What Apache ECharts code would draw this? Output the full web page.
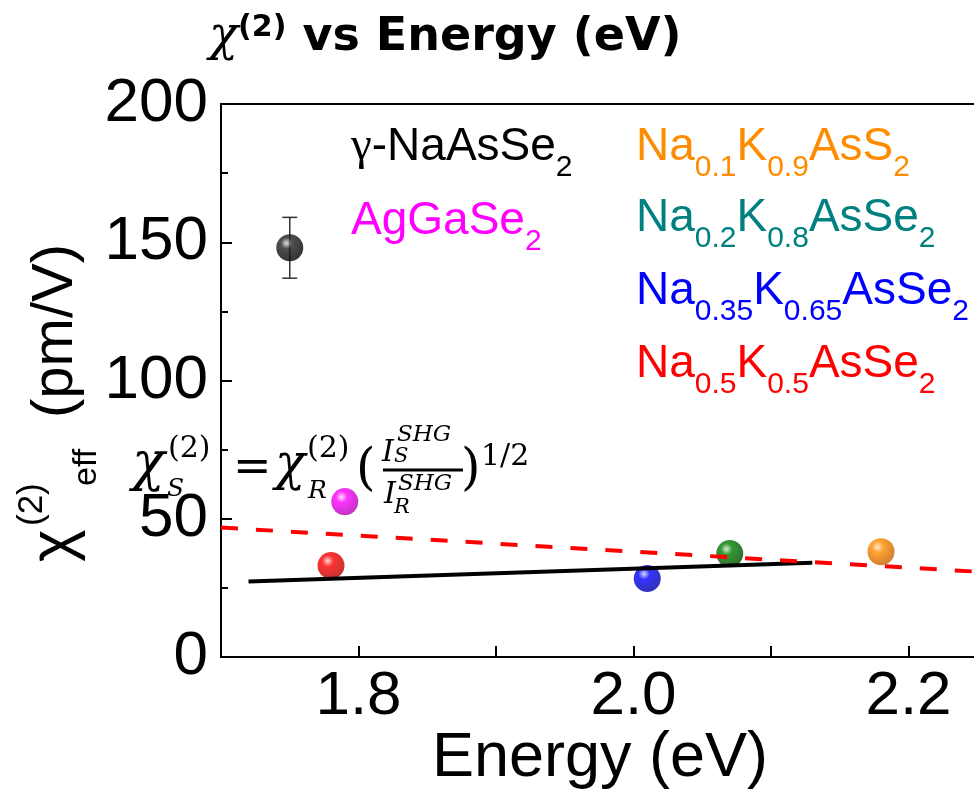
<!DOCTYPE html>
<html><head><meta charset="utf-8">
<script src="https://cdn.jsdelivr.net/npm/echarts@6/dist/echarts.min.js"></script>
<style>html,body{margin:0;padding:0;background:#fff}#c{width:974px;height:793px}</style>
</head><body><div id="c"></div>
<script>
// ---- data ----
const materials = ['γ-NaAsSe2', 'AgGaSe2', 'Na0.1K0.9AsS2', 'Na0.2K0.8AsSe2', 'Na0.35K0.65AsSe2', 'Na0.5K0.5AsSe2'];
const energy = [1.75, 1.79, 2.18, 2.07, 2.01, 1.78];
const chi2 = [148.0, 56.2, 38.1, 37.4, 28.4, 33.1];
const chi2Err = [11, 0, 0, 0, 0, 0];
const fitSolidX = [1.72, 2.13];
const fitSolidY = [27.3, 34.1];
const fitDashX = [1.70, 2.30];
const fitDashY = [46.8, 29.4];
const yTickValues = [0, 50, 100, 150, 200];
const xTickLabels = ['1.8', '2.0', '2.2'];
const xRange = [1.7, 2.3];

// ---- styles ----
const sphereColors = [
  ['#d8d8d8', '#222222', '#000000'],
  ['#ffd8ff', '#ff00ff', '#b000b0'],
  ['#ffe6c0', '#ff8c00', '#c06000'],
  ['#c8e8c8', '#008000', '#004800'],
  ['#d0d0ff', '#0000ff', '#0000a0'],
  ['#ffd0d0', '#ff0000', '#b00000']
];
const labelColors = ['#000000', '#ff00ff', '#ff8c00', '#008080', '#0000ff', '#ff0000'];
const labelTokens = [
  [['g', 'γ'], ['m', '-NaAsSe'], ['s', '2']],
  [['m', 'AgGaSe'], ['s', '2']],
  [['m', 'Na'], ['s', '0.1'], ['m', 'K'], ['s', '0.9'], ['m', 'AsS'], ['s', '2']],
  [['m', 'Na'], ['s', '0.2'], ['m', 'K'], ['s', '0.8'], ['m', 'AsSe'], ['s', '2']],
  [['m', 'Na'], ['s', '0.35'], ['m', 'K'], ['s', '0.65'], ['m', 'AsSe'], ['s', '2']],
  [['m', 'Na'], ['s', '0.5'], ['m', 'K'], ['s', '0.5'], ['m', 'AsSe'], ['s', '2']]
];
const labelPos = [[351, 163], [351, 237], [636, 163], [636, 234], [636, 307], [636, 380]];

const SANS = 'Liberation Sans';
const SERIF = 'DejaVu Serif';

function sphere(c) {
  return {
    type: 'radial', x: 0.38, y: 0.33, r: 0.7,
    colorStops: [
      { offset: 0, color: c[0] },
      { offset: 0.3, color: c[1] },
      { offset: 1, color: c[2] }
    ]
  };
}

const chart = echarts.init(document.getElementById('c'), null, { renderer: 'canvas' });

const graphics = [];

// title
graphics.push({
  type: 'text', left: 209, top: 8, z: 10,
  style: {
    text: '{c|χ}{p|(2)}{t| vs Energy (eV)}',
    verticalAlign: 'top',
    rich: {
      c: { fontFamily: SERIF, fontStyle: 'italic', fontSize: 48, lineHeight: 60, fill: '#000' },
      p: { fontFamily: 'DejaVu Sans', fontWeight: 'bold', fontSize: 30, lineHeight: 30, verticalAlign: 'top', padding: [5, 0, 0, 0], fill: '#000' },
      t: { fontFamily: 'DejaVu Sans', fontWeight: 'bold', fontSize: 46, lineHeight: 60, fill: '#000' }
    }
  }
});

// material labels
labelTokens.forEach((toks, i) => {
  const txt = toks.map(t => '{' + t[0] + '|' + t[1] + '}').join('');
  const col = labelColors[i];
  graphics.push({
    type: 'text', x: labelPos[i][0], y: labelPos[i][1] - 56, z: 10,
    style: {
      text: txt, verticalAlign: 'top', align: 'left',
      rich: {
        g: { fontFamily: 'Liberation Serif', fontSize: 47, lineHeight: 80, fill: col },
        m: { fontFamily: SANS, fontSize: 46, lineHeight: 80, fill: col },
        s: { fontFamily: SANS, fontSize: 30, lineHeight: 30, verticalAlign: 'top', padding: [46, 0, 0, 0], fill: col }
      }
    }
  });
});

// y axis title (rotated)
graphics.push({
  type: 'group', x: 76, y: 562, rotation: Math.PI / 2, z: 10,
  children: [
    { type: 'text', x: 0, y: -21, style: { text: 'χ', fontFamily: SANS, fontSize: 62, fill: '#000', verticalAlign: 'middle' } },
    { type: 'text', x: 36, y: -44, style: { text: '(2)', fontFamily: SANS, fontSize: 35, fill: '#000', verticalAlign: 'middle' } },
    { type: 'text', x: 76, y: 11, style: { text: 'eff', fontFamily: SANS, fontSize: 34, fill: '#000', verticalAlign: 'middle' } },
    { type: 'text', x: 144, y: -20, style: { text: '(pm/V)', fontFamily: SANS, fontSize: 58, fill: '#000', verticalAlign: 'middle' } }
  ]
});

// x axis title
graphics.push({
  type: 'text', x: 600, y: 759, z: 10,
  style: { text: 'Energy (eV)', fontFamily: SANS, fontSize: 63, fill: '#000', align: 'center', verticalAlign: 'middle' }
});

// formula
function ft(text, x, y, size, italic) {
  return { type: 'text', x: x, y: y, z: 12,
    style: { text: text, fontFamily: SERIF, fontStyle: italic ? 'italic' : 'normal', fontSize: size, fill: '#000', align: 'left', verticalAlign: 'middle' } };
}
graphics.push(
  ft('χ', 132, 466, 54, true),
  ft('S', 167, 489, 25, true),
  ft('(2)', 168, 449, 30, false),
  ft('=', 233, 469, 46, false),
  ft('χ', 275, 466, 50, true),
  ft('(2)', 307, 449, 30, false),
  ft('R', 308, 491, 25, true),
  ft('(', 356, 471, 50, false),
  ft('I', 382, 453, 30, true),
  ft('SHG', 397, 435, 23, true),
  ft('S', 394, 457, 21, true),
  { type: 'line', z: 12, shape: { x1: 383, y1: 470, x2: 463, y2: 470 }, style: { stroke: '#000', lineWidth: 3 } },
  ft('I', 384, 495, 30, true),
  ft('SHG', 398, 484, 23, true),
  ft('R', 394, 508, 21, true),
  ft(')', 461, 471, 50, false),
  ft('1/2', 481, 457, 30, false)
);

function xFmt(v) {
  const r = Math.round(v * 10) / 10;
  if (Math.abs(v - r) > 1e-6) return '';
  const s = r.toFixed(1);
  return xTickLabels.indexOf(s) >= 0 ? s : '';
}

const option = {
  backgroundColor: '#ffffff',
  animation: false,
  grid: { left: 221, top: 104, width: 825, height: 553, show: false, outerBoundsMode: 'none', containLabel: false },
  xAxis: [{
    type: 'value', min: xRange[0], max: xRange[1], interval: 0.1,
    axisLine: { show: true, onZero: false, lineStyle: { color: '#000', width: 2 } },
    axisTick: { show: true, inside: true, length: 11, lineStyle: { color: '#000', width: 2 } },
    axisLabel: { show: true, margin: 9, color: '#000', fontFamily: SANS, fontSize: 62, formatter: xFmt },
    splitLine: { show: false }
  }, {
    type: 'value', position: 'top', min: xRange[0], max: xRange[1], interval: 0.1,
    axisLine: { show: true, onZero: false, lineStyle: { color: '#000', width: 2 } },
    axisTick: { show: false }, axisLabel: { show: false }, splitLine: { show: false }
  }],
  yAxis: {
    type: 'value', min: 0, max: 200, interval: 50,
    axisLine: { show: true, onZero: false, lineStyle: { color: '#000', width: 2 } },
    axisTick: { show: true, inside: true, length: 11, lineStyle: { color: '#000', width: 2 } },
    minorTick: { show: true, splitNumber: 2, length: 7, lineStyle: { color: '#000', width: 2 } },
    axisLabel: {
      show: true, margin: 13, color: '#000', fontFamily: SANS, fontSize: 62,
      formatter: function (v) { return yTickValues.indexOf(v) >= 0 ? String(v) : ''; }
    },
    splitLine: { show: false }
  },
  series: [
    {
      type: 'custom', name: 'error', z: 3,
      renderItem: function (params, api) {
        const x = api.value(0), y = api.value(1), e = api.value(2);
        if (!e) return null;
        const top = api.coord([x, y + e]);
        const bot = api.coord([x, y - e]);
        const hw = 7.5;
        return {
          type: 'group',
          children: [
            { type: 'line', shape: { x1: top[0], y1: top[1], x2: bot[0], y2: bot[1] }, style: { stroke: '#333', lineWidth: 1.5 } },
            { type: 'line', shape: { x1: top[0] - hw, y1: top[1], x2: top[0] + hw, y2: top[1] }, style: { stroke: '#333', lineWidth: 1.5 } },
            { type: 'line', shape: { x1: bot[0] - hw, y1: bot[1], x2: bot[0] + hw, y2: bot[1] }, style: { stroke: '#333', lineWidth: 1.5 } }
          ]
        };
      },
      data: energy.map((e, i) => [e, chi2[i], chi2Err[i]])
    },
    {
      type: 'scatter', name: 'materials', z: 4, symbol: 'circle', symbolSize: 27,
      data: energy.map((e, i) => ({ name: materials[i], value: [e, chi2[i]], itemStyle: { color: sphere(sphereColors[i]) } }))
    },
    {
      type: 'line', name: 'fit', z: 5, symbol: 'none', silent: true,
      lineStyle: { color: '#000', width: 4 },
      data: fitSolidX.map((x, i) => [x, fitSolidY[i]])
    },
    {
      type: 'line', name: 'trend', z: 6, symbol: 'none', silent: true,
      lineStyle: { color: '#ff0000', width: 4, type: [17, 18] },
      data: fitDashX.map((x, i) => [x, fitDashY[i]])
    }
  ],
  graphic: graphics
};
chart.setOption(option);
</script>
</body></html>
